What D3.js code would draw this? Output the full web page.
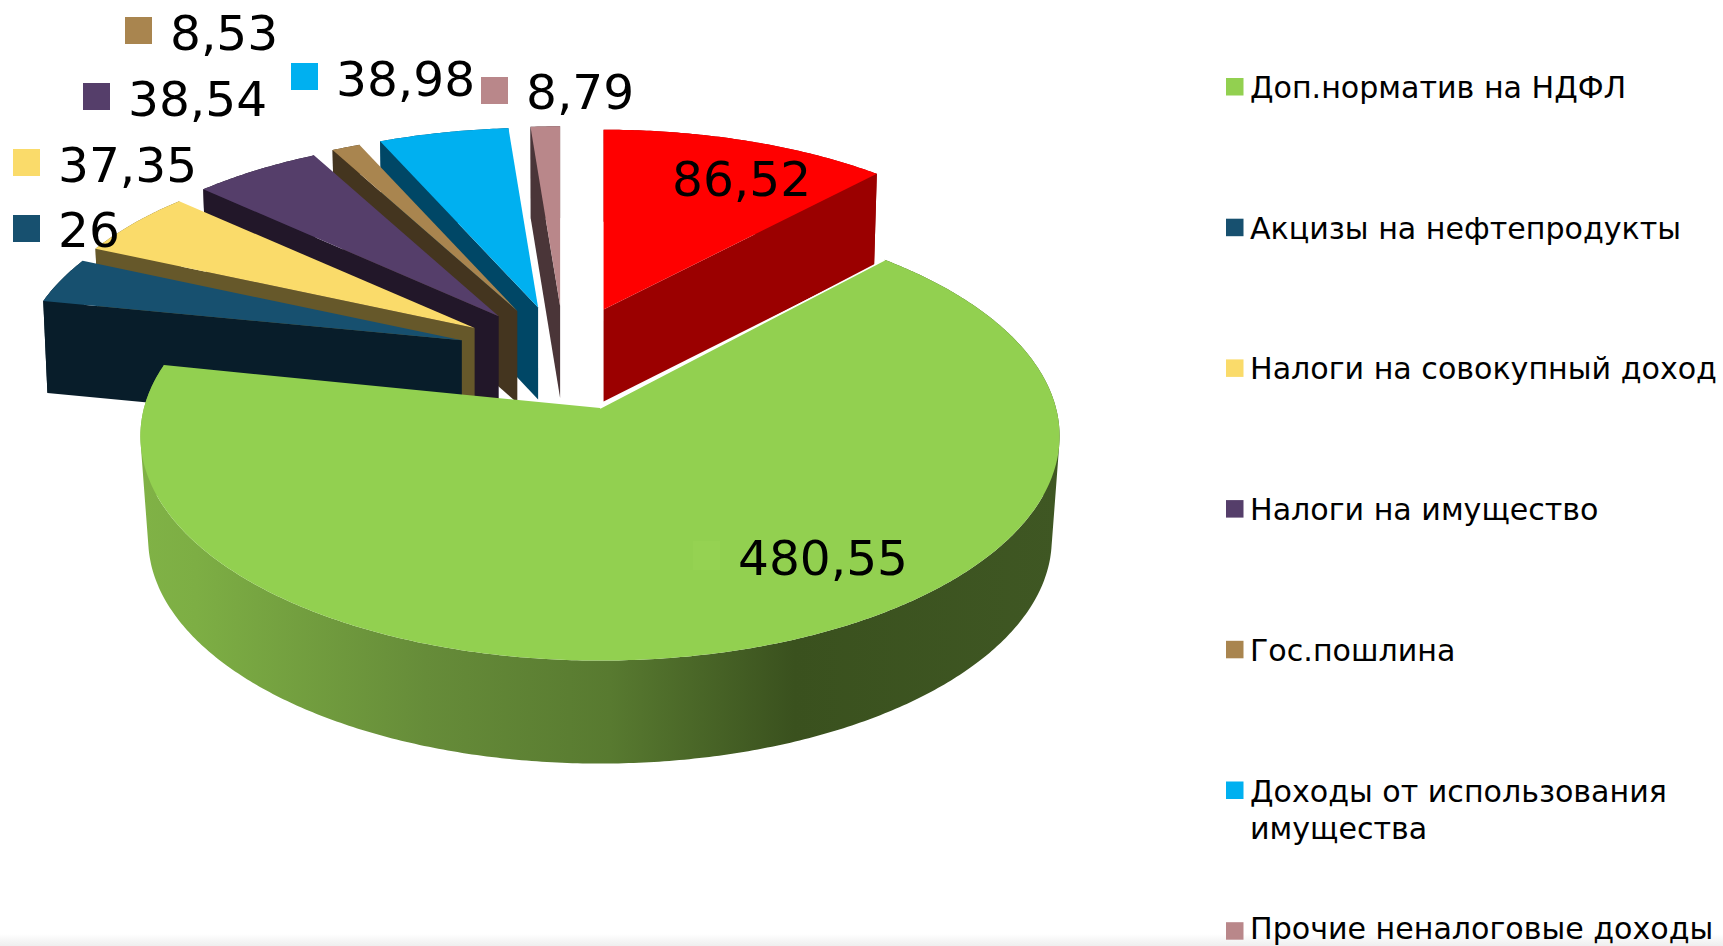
<!DOCTYPE html>
<html lang="ru">
<head>
<meta charset="utf-8">
<title>Структура доходов</title>
<script src="https://cdnjs.cloudflare.com/ajax/libs/d3/7.8.5/d3.min.js"></script>
<style>
html,body{margin:0;padding:0;background:#fff;overflow:hidden}
svg{display:block}
text{font-family:"DejaVu Sans",sans-serif;fill:#000}
</style>
</head>
<body>
<svg id="chart" width="1723" height="946"></svg>
<script>
// ---- data ----
const legendNames = ["Доп.норматив на НДФЛ","Акцизы на нефтепродукты","Налоги на совокупный доход","Налоги на имущество","Гос.пошлина","Доходы от использования\nимущества","Прочие неналоговые доходы"];
const values = [480.55,26,37.35,38.54,8.53,38.98,8.79,86.52];
const valueLabels = ["480,55","26","37,35","38,54","8,53","38,98","8,79","86,52"];

// ---- styles ----
const topColors  = ["#92d050","#17506f","#fadb6a","#553e6a","#a9854f","#00b0f0","#b9878a","#ff0000"];
const sideColors = ["#3f5723","#081d2a","#66582a","#221729","#44351f","#004766","#4a3538","#9b0000"];
// label anchor: marker corner + text origin
const labelLayout = [
  {mx:693,my:541,tx:738,ty:575,marker:"#95d252"},
  {mx:13,my:215,tx:58,ty:247},
  {mx:13,my:149,tx:58,ty:182},
  {mx:83,my:83,tx:128,ty:116},
  {mx:125,my:17,tx:170,ty:50},
  {mx:291,my:63,tx:336,ty:96},
  {mx:481,my:77,tx:526,ty:109},
  {mx:null,my:null,tx:672,ty:196}
];
const view = {a:456,b:221,k:0.125};                    // perspective of the pie plane
const base = {x:600,y:408,sx:1,sy:1,h:103,shrink:0.983}; // main (not exploded) slice
const group = {x:564.2,y:355.5,ex:107.6,ey:49.5,sx:0.96,sy:0.915,h:92,shrink:0.99}; // exploded slices

const svg = d3.select("#chart");
const defs = svg.append("defs");

// faint slide-edge band at the bottom
const fade = defs.append("linearGradient").attr("id","edge").attr("x1",0).attr("x2",0).attr("y1",0).attr("y2",1);
fade.append("stop").attr("offset",0).attr("stop-color","#ffffff");
fade.append("stop").attr("offset",1).attr("stop-color","#eeeeee");
svg.append("rect").attr("x",0).attr("y",934).attr("width",1723).attr("height",12).attr("fill","url(#edge)");

// gradient on the wall of the large slice
const wall = defs.append("linearGradient").attr("id","wall").attr("gradientUnits","userSpaceOnUse")
  .attr("x1",141).attr("x2",1060).attr("y1",0).attr("y2",0);
[[0,"#80b246"],[0.06,"#7dae44"],[0.31,"#668c39"],[0.51,"#587a30"],[0.711,"#3a511e"],[1,"#3f5723"]]
  .forEach(([o,c])=>wall.append("stop").attr("offset",o).attr("stop-color",c));

// ---- geometry ----
const total = d3.sum(values);
const redShare = values[values.length-1]/total*2*Math.PI;
const pie = d3.pie().sort(null).startAngle(redShare).endAngle(redShare+2*Math.PI);
const arcs = pie(values);

function project(theta,f){
  const x=Math.sin(theta), z=Math.cos(theta), den=1+view.k*z;
  return [view.a*f.sx*x/den, -view.b*f.sy*z/den];
}
function frame(d,i){
  if(i===0) return base;
  const m=(d.startAngle+d.endAngle)/2;
  return {...group,x:group.x+group.ex*Math.sin(m),y:group.y-group.ey*Math.cos(m)};
}
const line = d3.line();
function slicePaths(d,i){
  const f=frame(d,i);
  const n=Math.max(2,Math.ceil((d.endAngle-d.startAngle)/0.01));
  const angles=d3.range(n+1).map(j=>d.startAngle+(d.endAngle-d.startAngle)*j/n);
  const t=p=>[f.x+p[0],f.y+p[1]];
  const b=p=>[f.x+p[0]*f.shrink,f.y+p[1]+f.h];
  const rim=angles.map(a=>project(a,f));
  const apex=[0,0];
  const faces=[];
  [[d.startAngle,-1],[d.endAngle,1]].forEach(([a,dir])=>{
    const nz=-dir*Math.sin(a);
    if(nz<-0.01){
      const p=project(a,f);
      faces.push(line([t(apex),t(p),b(p),b(apex)])+"Z");
    }
  });
  // wall swept as same-orientation quads, so its silhouette is filled
  let wallPath="";
  for(let j=0;j<n;j++){
    const q=[t(rim[j]),t(rim[j+1]),b(rim[j+1]),b(rim[j])];
    if(d3.polygonArea(q)<0) q.reverse();
    wallPath+=line(q)+"Z";
  }
  return {
    top:line([t(apex),...rim.map(t)])+"Z",
    wall:wallPath,
    faces,
    edge:line([t(apex),t(rim[0])])
  };
}

// painter's order: far slices first, the large slice last
const order=[6,5,4,3,2,1,7,0];
const gPie=svg.append("g");
order.forEach(i=>{
  const d=arcs[i], p=slicePaths(d,i);
  const g=gPie.append("g").attr("class","slice");
  g.append("path").attr("d",p.wall).attr("fill",i===0?"url(#wall)":sideColors[i]);
  p.faces.forEach(fp=>g.append("path").attr("d",fp).attr("fill",sideColors[i]));
  g.append("path").attr("d",p.top).attr("fill",topColors[i]);
  if(i===0) g.append("path").attr("d",p.edge).attr("stroke","#ffffff").attr("stroke-width",1.6).attr("fill","none");
});

// ---- data labels ----
const gLabels=svg.append("g");
values.forEach((v,i)=>{
  const L=labelLayout[i];
  if(L.mx!==null){
    gLabels.append("rect").attr("x",L.mx).attr("y",L.my).attr("width",27).attr("height",i===0?29:27)
      .attr("fill",L.marker||topColors[i]);
  }
  gLabels.append("text").attr("x",L.tx).attr("y",L.ty).attr("font-size",48.6).text(valueLabels[i]);
});

// ---- legend ----
const yLegend=d3.scaleLinear().domain([0,1]).range([78,218.7]);
const gLegend=svg.append("g");
legendNames.forEach((name,i)=>{
  const y=yLegend(i);
  gLegend.append("rect").attr("x",1226).attr("y",y).attr("width",17.5).attr("height",17.5).attr("fill",topColors[i]);
  const t=gLegend.append("text").attr("font-size",30.1);
  const baseline=Math.min(y+20,938.9); // keep the last row inside the page
  name.split("\n").forEach((ln,j)=>{
    t.append("tspan").attr("x",1250).attr("y",baseline+j*37.3).text(ln);
  });
});
</script>
</body>
</html>
